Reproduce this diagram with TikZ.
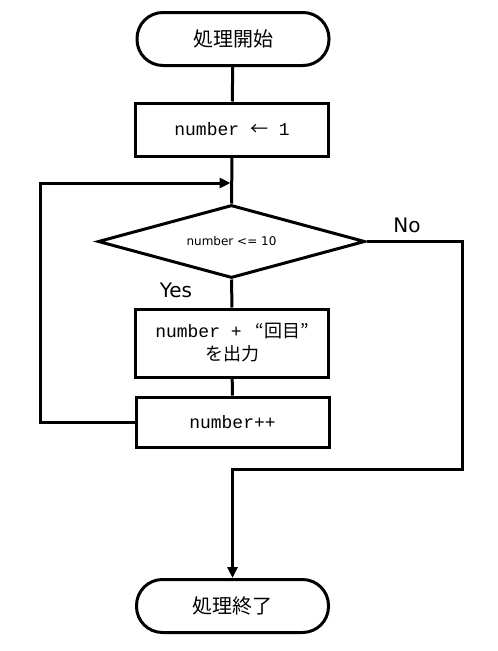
\documentclass[tikz,border=0pt]{standalone}
\usepackage{fontspec}
\setmainfont{DejaVu Sans}
\newfontfamily\jp{Noto Sans CJK JP}
\newfontfamily\mono{Liberation Mono}
\usetikzlibrary{shapes.geometric,arrows.meta}
\begin{document}
\begin{tikzpicture}[x=1pt,y=-1pt, line width=3pt, line join=miter,
 term/.style={draw, rounded corners=26pt, minimum width=192pt, minimum height=53pt, inner sep=0pt, font=\jp\fontsize{20}{24}\selectfont},
 proc/.style={draw, minimum width=193pt, inner sep=0pt, font=\mono\fontsize{18}{23}\selectfont, align=center},
 dec/.style={draw, diamond, aspect=3.658, minimum width=267pt, minimum height=73pt, inner sep=0pt, font=\fontsize{12}{14}\selectfont},
 arr/.style={-{Triangle[length=11pt,width=10pt]}},
 lab/.style={font=\fontsize{20}{24}\selectfont}]
\useasboundingbox (0,0) rectangle (498,651);
\node[term] (start) at (233,39) {処理開始};
\node[proc, minimum height=53pt] (init) at (232,129.5) {number {\jp ←} 1};
\node[dec] (dec) at (231.5,241.5) {\raisebox{-3pt}{number <= 10}};
\node[proc, minimum height=68pt] (out) at (232,343) {number +\hspace{14pt}{\jp “回目”}\\{\jp を出力}};
\node[proc, minimum height=50pt] (inc) at (232.5,422) {number++};
\node[term] (end) at (232.5,606) {処理終了};
\coordinate (jn) at (230.5,183);
\coordinate (lp) at (40,422);
\coordinate (nr) at (462,469);
\node[lab] (no) at (407,225) {No};
\node[lab] (yes) at (176,290) {Yes};
\draw (start) -- (init);
\draw (init.south) -- (dec.north);
\draw (dec.south) -- (out.north);
\draw (out) -- (inc);
\draw[arr] (inc.west) -- (lp) |- (jn);
\draw[arr] (dec.east) -| (nr) -| (end.north);
\end{tikzpicture}
\end{document}
